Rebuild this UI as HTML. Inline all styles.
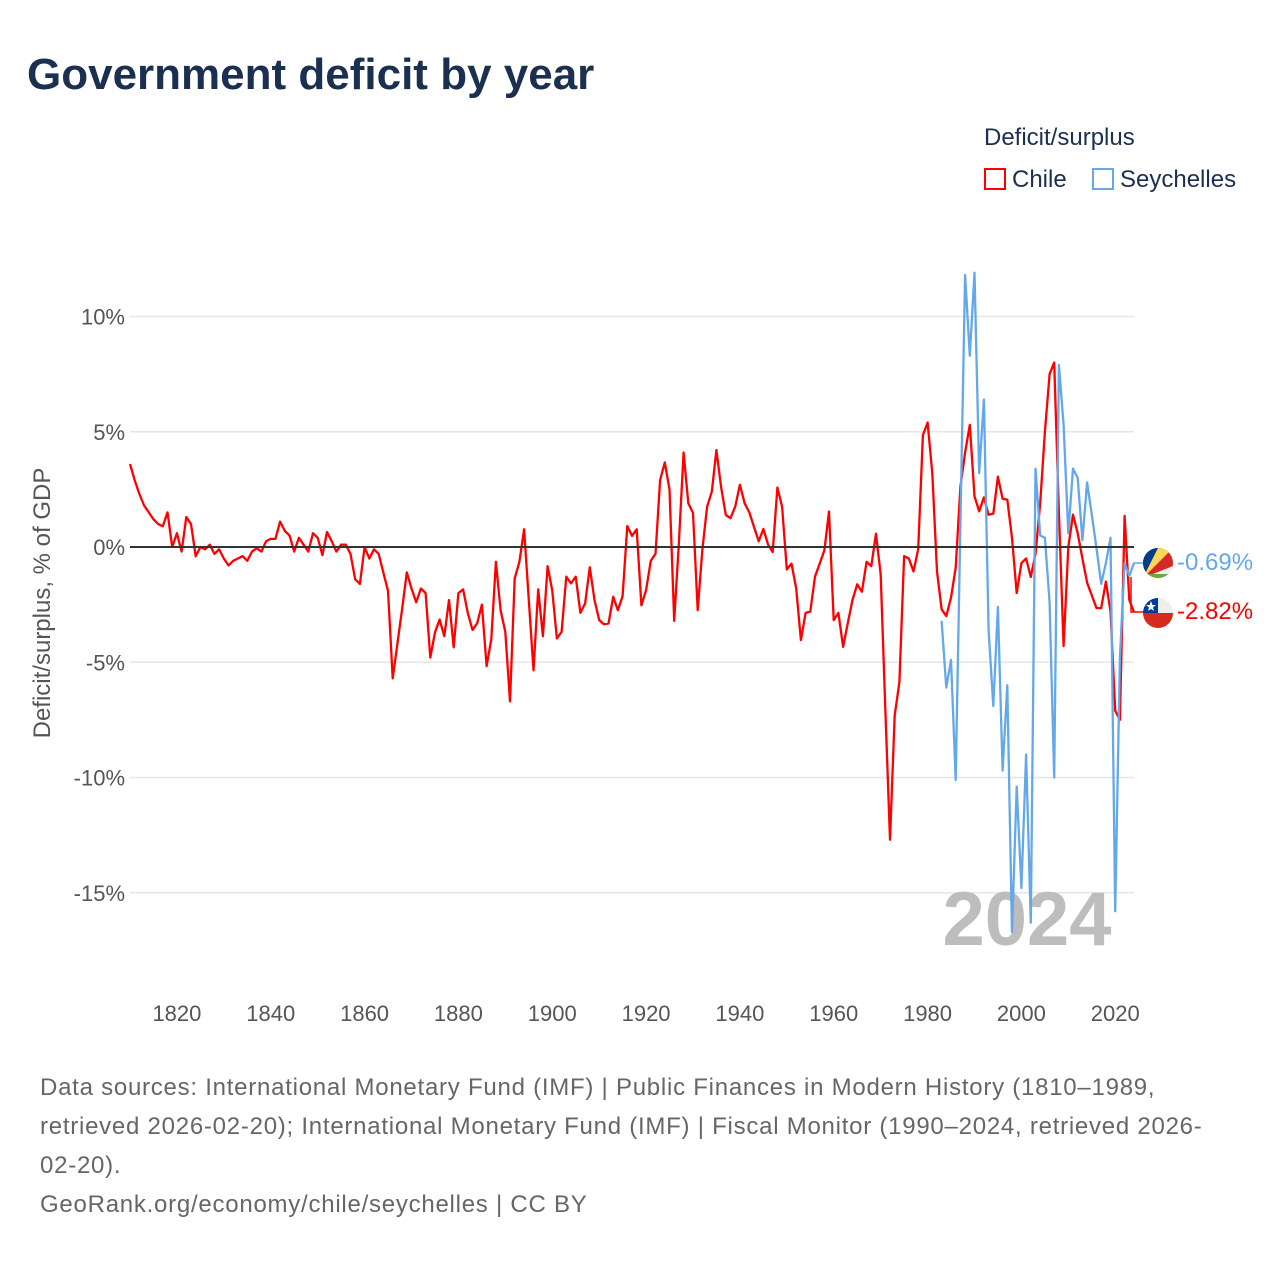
<!DOCTYPE html>
<html><head><meta charset="utf-8">
<style>
html,body{margin:0;padding:0;background:#fff;}
body{width:1280px;height:1280px;position:relative;overflow:hidden;font-family:"Liberation Sans",sans-serif;}
.t{position:absolute;white-space:nowrap;}
</style></head>
<body>
<div class="t" style="left:27px;top:50px;font-size:44px;font-weight:bold;color:#1b2f50;">Government deficit by year</div>
<div class="t" style="left:984px;top:124px;font-size:24px;color:#1b2f50;">Deficit/surplus</div>
<div class="t" style="left:984px;top:166px;font-size:24px;color:#1b2f50;"><span style="display:inline-block;width:22px;height:22px;border:2px solid #ff0000;box-sizing:border-box;vertical-align:-3px;margin-right:6px;"></span>Chile</div>
<div class="t" style="left:1092px;top:166px;font-size:24px;color:#1b2f50;"><span style="display:inline-block;width:22px;height:22px;border:2px solid #64a8ea;box-sizing:border-box;vertical-align:-3px;margin-right:6px;"></span>Seychelles</div>

<svg id="chart" width="1280" height="1280" style="position:absolute;left:0;top:0;">
<g id="grid"></g>
<text x="1027" y="945" text-anchor="middle" font-family="Liberation Sans, sans-serif" font-weight="bold" font-size="76" fill="#bdbdbd">2024</text>
<g id="series"></g>
<text transform="translate(50,603) rotate(-90)" text-anchor="middle" font-family="Liberation Sans, sans-serif" font-size="24" fill="#555">Deficit/surplus, % of GDP</text>
<g id="labels"></g>
</svg>

<div class="t" style="left:40px;top:1068px;font-size:24px;line-height:39px;color:#666;letter-spacing:0.75px;">Data sources: International Monetary Fund (IMF) | Public Finances in Modern History (1810–1989,<br>retrieved 2026-02-20); International Monetary Fund (IMF) | Fiscal Monitor (1990–2024, retrieved 2026-<br>02-20).<br>GeoRank.org/economy/chile/seychelles | CC BY</div>

<script>
const yTicks = [10, 5, 0, -5, -10, -15];
const yTickLabels = ["10%", "5%", "0%", "-5%", "-10%", "-15%"];
const xTicks = [1820, 1840, 1860, 1880, 1900, 1920, 1940, 1960, 1980, 2000, 2020];
const chileStart = 1810;
const chileValues = [3.6,2.9,2.3,1.8,1.5,1.2,1.0,0.9,1.5,0.0,
0.6,-0.2,1.3,1.0,-0.4,0.0,-0.1,0.1,-0.3,-0.1,
-0.5,-0.8,-0.6,-0.5,-0.4,-0.6,-0.2,-0.05,-0.2,0.25,
0.35,0.35,1.1,0.7,0.5,-0.2,0.4,0.1,-0.2,0.6,
0.4,-0.35,0.65,0.25,-0.2,0.1,0.1,-0.3,-1.4,-1.6,
0.0,-0.5,-0.1,-0.3,-1.1,-1.9,-5.7,-4.2,-2.7,-1.1,
-1.8,-2.4,-1.8,-2.0,-4.8,-3.7,-3.15,-3.87,-2.3,-4.35,
-2.0,-1.84,-2.86,-3.6,-3.3,-2.5,-5.17,-4.0,-0.64,-2.74,
-3.68,-6.7,-1.36,-0.64,0.77,-2.3,-5.35,-1.84,-3.87,-0.83,
-1.87,-3.97,-3.68,-1.29,-1.58,-1.29,-2.86,-2.45,-0.88,-2.3,
-3.17,-3.35,-3.32,-2.16,-2.74,-2.13,0.91,0.48,0.77,-2.53,
-1.87,-0.6,-0.3,2.9,3.67,2.5,-3.2,0.2,4.1,1.9,
1.48,-2.74,-0.1,1.75,2.4,4.2,2.6,1.39,1.25,1.75,
2.7,1.9,1.5,0.87,0.25,0.78,0.1,-0.22,2.58,1.75,
-0.97,-0.72,-1.8,-4.04,-2.86,-2.8,-1.29,-0.72,-0.14,1.54,
-3.17,-2.86,-4.33,-3.3,-2.3,-1.62,-1.94,-0.64,-0.83,0.58,
-1.2,-7.0,-12.7,-7.3,-5.86,-0.4,-0.5,-1.06,-0.1,4.85,
5.4,3.2,-1.06,-2.7,-3.0,-2.2,-0.9,2.6,4.1,5.3,
2.2,1.55,2.15,1.4,1.45,3.05,2.1,2.05,0.4,-2.0,
-0.7,-0.5,-1.3,-0.3,1.9,5.0,7.5,8.0,1.5,-4.3,
0.0,1.4,0.6,-0.5,-1.55,-2.1,-2.65,-2.65,-1.5,-2.8,
-7.1,-7.5,1.35,-2.3,-2.82];
const seyStart = 1983;
const seyValues = [-3.2,-6.1,-4.9,-10.1,1.0,11.8,8.3,11.9,3.2,6.4,
-3.6,-6.9,-2.6,-9.7,-6.0,-16.7,-10.4,-14.8,-9.0,-16.3,
3.4,0.5,0.4,-2.4,-10.0,7.9,5.3,0.6,3.4,3.0,
0.3,2.8,1.4,-0.05,-1.6,-0.7,0.4,-15.8,-4.8,-0.7,
-1.25,-0.69];

const X0=130, X1=1134, YR0=1810, YR1=2024;
const xs = yr => X0 + (yr-YR0)*(X1-X0)/(YR1-YR0);
const ys = v => 547 - v*23.05;
const NS="http://www.w3.org/2000/svg";
function mk(tag, attrs, parent){const e=document.createElementNS(NS,tag);for(const k in attrs)e.setAttribute(k,attrs[k]);parent.appendChild(e);return e;}
const grid=document.getElementById('grid'), series=document.getElementById('series'), labels=document.getElementById('labels');

yTicks.forEach((t,i)=>{
  if(t!==0){const l=mk('line',{x1:X0,x2:X1,y1:ys(t),y2:ys(t),stroke:'#e6e6e6','stroke-width':1.5},grid);
  
  }
  const tx=mk('text',{x:125,y:ys(t)+8,'text-anchor':'end','font-size':22,'font-family':'Liberation Sans, sans-serif',fill:'#555'},grid);
  tx.textContent=yTickLabels[i];
  
  
});
xTicks.forEach(t=>{
  const tx=mk('text',{x:xs(t),y:1021,'text-anchor':'middle','font-size':22,'font-family':'Liberation Sans, sans-serif',fill:'#555'},grid);
  tx.textContent=String(t);
  
  
});

function path(start, vals){return vals.map((v,i)=>(i?'L':'M')+xs(start+i).toFixed(1)+','+ys(v).toFixed(1)).join(' ');}
const pc=mk('path',{d:path(chileStart,chileValues),fill:'none',stroke:'#ff0000','stroke-width':2.3,'stroke-linejoin':'round'},series);


const ps=mk('path',{d:path(seyStart,seyValues),fill:'none',stroke:'#64a8ea','stroke-width':2.3,'stroke-linejoin':'round'},series);


const zl=mk('line',{x1:X0,x2:X1,y1:ys(0),y2:ys(0),stroke:'#333','stroke-width':2},series);



const seyLast=seyValues[seyValues.length-1], chLast=chileValues[chileValues.length-1];
const c1=mk('polyline',{points:`${X1},${ys(seyLast)} 1134,563 1143,563`,fill:'none',stroke:'#64a8ea','stroke-width':1.5},labels);


const c2=mk('polyline',{points:`${X1-3},${ys(0)+30} ${X1-3},${ys(chLast)} 1143,${ys(chLast)}`,fill:'none',stroke:'#ff0000','stroke-width':1.5},labels);



const defs=mk('defs',{},labels);
const cp1=mk('clipPath',{id:'cs'},defs); mk('circle',{cx:1158,cy:563,r:15},cp1);
const cp2=mk('clipPath',{id:'cc'},defs); mk('circle',{cx:1158,cy:613,r:15},cp2);
const fs=mk('g',{'clip-path':'url(#cs)'},labels);


mk('rect',{x:1143,y:548,width:30,height:30,fill:'#d62828'},fs);
mk('polygon',{points:'1143,578 1143,548 1158,548',fill:'#003f87'},fs);
mk('polygon',{points:'1143,578 1158,548 1173,548',fill:'#fcd856'},fs);
mk('polygon',{points:'1143,578 1173,566 1173,578',fill:'#f2f2f2'},fs);
mk('rect',{x:1143,y:574,width:30,height:6,fill:'#6aa842'},fs);
const fc=mk('g',{'clip-path':'url(#cc)'},labels);


mk('rect',{x:1143,y:598,width:30,height:15,fill:'#eeeeee'},fc);
mk('rect',{x:1143,y:613,width:30,height:15,fill:'#d52b1e'},fc);
mk('rect',{x:1143,y:598,width:15,height:15,fill:'#0039a6'},fc);
mk('polygon',{points:'1151,601 1152.5,605 1156,605 1153,607.5 1154,611 1151,609 1148,611 1149,607.5 1146,605 1149.5,605',fill:'#fff'},fc);

const l1=mk('text',{x:1177,y:570,'font-size':24,'font-family':'Liberation Sans, sans-serif',fill:'#64a8ea'},labels);
l1.textContent=seyLast.toFixed(2)+'%';


const l2=mk('text',{x:1177,y:619,'font-size':24,'font-family':'Liberation Sans, sans-serif',fill:'#ff0000'},labels);
l2.textContent=chLast.toFixed(2)+'%';


</script>
</body></html>
